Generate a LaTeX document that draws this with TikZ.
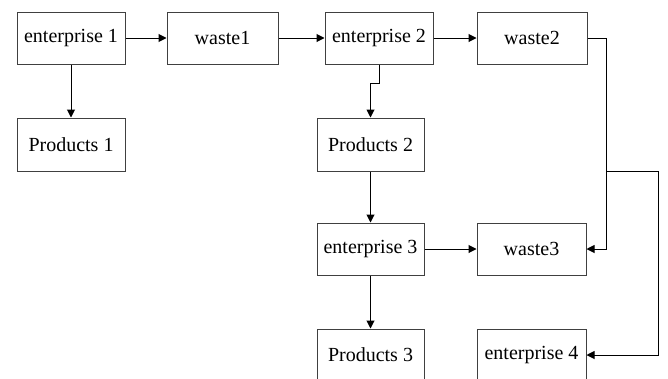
\documentclass[tikz,border=0pt]{standalone}
\usepackage{fontspec}
\setmainfont{Liberation Serif}
\usetikzlibrary{arrows.meta}
\begin{document}
\begin{tikzpicture}[x=1pt,y=-1pt,
  box/.style={draw=black!75,line width=1pt,rectangle,inner sep=0pt,font=\fontsize{20}{23}\selectfont},
  arr/.style={draw=black,line width=1pt,-{Triangle[length=8pt,width=8pt]}}]
\clip (0,0) rectangle (668,378);
\useasboundingbox (0,0) rectangle (668,378);
\node[box,minimum width=108pt,minimum height=52pt] (e1) at (71,38) {enterprise 1};
\node[box,minimum width=111pt,minimum height=52pt] (w1) at (222.5,38) {waste1};
\node[box,minimum width=108pt,minimum height=52pt] (e2) at (379,38) {enterprise 2};
\node[box,minimum width=110pt,minimum height=52pt] (w2) at (532,38) {waste2};
\node[box,minimum width=108pt,minimum height=53pt] (p1) at (71,144.5) {Products 1};
\node[box,minimum width=107pt,minimum height=53pt] (p2) at (370.5,144.5) {Products 2};
\node[box,minimum width=107pt,minimum height=52pt] (e3) at (370.5,249) {enterprise 3};
\node[box,minimum width=109pt,minimum height=52pt] (w3) at (531.5,249) {waste3};
\node[box,minimum width=107pt,minimum height=52pt] (p3) at (370.5,355) {Products 3};
\node[box,minimum width=109pt,minimum height=52pt] (e4) at (531.5,355) {enterprise 4};
\coordinate (j1) at (606,171);
\coordinate (j2) at (658,171);
\draw[arr] (e1) -- (w1);
\draw[arr] (w1) -- (e2);
\draw[arr] (e2) -- (w2);
\draw[arr] (e1) -- (p1);
\draw[arr] (e2.south) -- ++(0,19) -| (p2.north);
\draw[arr] (p2) -- (e3);
\draw[arr] (e3) -- (w3);
\draw[arr] (e3) -- (p3);
\draw[arr] (w2.east) -| (j1) |- (w3.east);
\draw[arr] (j1) -- (j2) |- (e4.east);
\end{tikzpicture}
\end{document}
